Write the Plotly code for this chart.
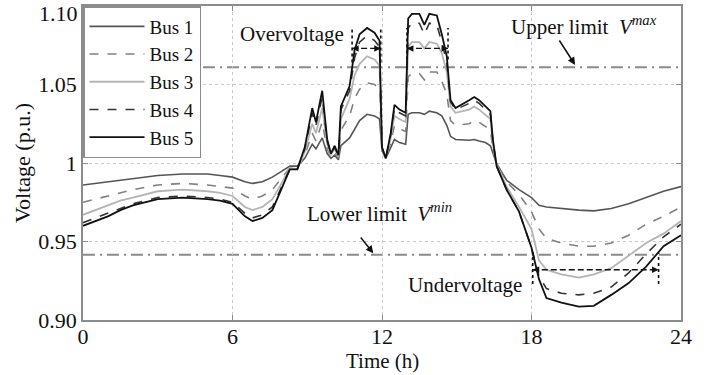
import plotly.graph_objects as go

hours = [0, 0.5, 1, 1.5, 2, 3, 4, 5, 5.5, 6, 6.5, 6.8, 7.2, 7.6, 8.0, 8.3, 8.6, 8.9,
         9.2, 9.35, 9.6, 9.8, 9.95, 10.1, 10.25, 10.35, 10.7, 10.9, 11.1, 11.4, 11.7,
         11.9, 12.0, 12.15, 12.35, 12.5, 12.7, 12.95, 13.05, 13.2, 13.5, 13.7, 13.9,
         14.2, 14.4, 14.6, 14.75, 14.95, 15.5, 15.7, 15.9, 16.15, 16.35, 16.45, 16.6,
         17.0, 17.5, 18.0, 18.3, 18.6, 19.2, 19.9, 20.5, 21.2, 21.9, 22.6, 23.3, 24]

bus1 = [0.986, 0.987, 0.988, 0.989, 0.990, 0.992, 0.993, 0.993, 0.992, 0.991, 0.988, 0.987,
        0.988, 0.991, 0.995, 0.998, 0.998, 1.003, 1.012, 1.009, 1.016, 1.006, 1.003, 1.005,
        1.002, 1.011, 1.016, 1.022, 1.027, 1.031, 1.030, 1.028, 1.008, 1.003, 1.010, 1.015,
        1.013, 1.012, 1.031, 1.032, 1.032, 1.031, 1.033, 1.032, 1.030, 1.024, 1.017, 1.015,
        1.0145, 1.015, 1.014, 1.013, 1.011, 1.006, 0.9995, 0.989, 0.983, 0.978, 0.973, 0.972,
        0.971, 0.970, 0.9695, 0.971, 0.974, 0.978, 0.982, 0.985]

bus2 = [0.975, 0.977, 0.979, 0.981, 0.983, 0.986, 0.987, 0.986, 0.985, 0.984, 0.979, 0.977,
        0.979, 0.983, 0.991, 0.997, 0.997, 1.005, 1.019, 1.014, 1.026, 1.009, 1.004, 1.007,
        1.003, 1.021, 1.030, 1.041, 1.047, 1.051, 1.050, 1.047, 1.008, 1.003, 1.013, 1.024,
        1.022, 1.020, 1.055, 1.057, 1.057, 1.053, 1.058, 1.058, 1.052, 1.044, 1.027, 1.024,
        1.025, 1.027, 1.026, 1.023, 1.021, 1.009, 0.999, 0.988, 0.980, 0.969, 0.958, 0.952,
        0.949, 0.947, 0.947, 0.949, 0.954, 0.961, 0.966, 0.972]

bus3 = [0.967, 0.970, 0.973, 0.976, 0.978, 0.982, 0.983, 0.982, 0.981, 0.979, 0.972, 0.970,
        0.972, 0.977, 0.988, 0.997, 0.996, 1.007, 1.025, 1.019, 1.035, 1.012, 1.005, 1.009,
        1.004, 1.028, 1.041, 1.056, 1.063, 1.068, 1.066, 1.062, 1.009, 1.003, 1.016, 1.030,
        1.028, 1.026, 1.074, 1.077, 1.077, 1.073, 1.077, 1.076, 1.070, 1.058, 1.036, 1.032,
        1.034, 1.036, 1.034, 1.031, 1.028, 1.012, 0.999, 0.985, 0.972, 0.958, 0.938, 0.932,
        0.929, 0.927, 0.929, 0.933, 0.941, 0.949, 0.955, 0.963]

bus4 = [0.962, 0.965, 0.968, 0.971, 0.974, 0.978, 0.979, 0.978, 0.977, 0.975, 0.968, 0.965,
        0.967, 0.972, 0.986, 0.996, 0.996, 1.009, 1.032, 1.024, 1.042, 1.014, 1.006, 1.010,
        1.005, 1.034, 1.046, 1.067, 1.077, 1.081, 1.078, 1.074, 1.010, 1.003, 1.018, 1.035,
        1.032, 1.030, 1.086, 1.089, 1.089, 1.082, 1.089, 1.088, 1.077, 1.064, 1.039, 1.034,
        1.038, 1.040, 1.038, 1.034, 1.031, 1.014, 0.998, 0.983, 0.969, 0.946, 0.928, 0.920,
        0.917, 0.916, 0.917, 0.921, 0.930, 0.942, 0.953, 0.961]

bus5 = [0.960, 0.963, 0.966, 0.970, 0.973, 0.977, 0.978, 0.977, 0.976, 0.974, 0.966, 0.963,
        0.965, 0.970, 0.985, 0.996, 0.996, 1.010, 1.035, 1.026, 1.046, 1.015, 1.006, 1.011,
        1.005, 1.036, 1.049, 1.072, 1.082, 1.086, 1.083, 1.078, 1.010, 1.003, 1.019, 1.037,
        1.034, 1.032, 1.092, 1.095, 1.095, 1.088, 1.095, 1.094, 1.082, 1.068, 1.040, 1.035,
        1.040, 1.042, 1.040, 1.036, 1.033, 1.015, 0.998, 0.983, 0.969, 0.946, 0.926, 0.914,
        0.911, 0.9085, 0.909, 0.916, 0.9235, 0.934, 0.947, 0.954]

series_names = ["Bus 1", "Bus 2", "Bus 3", "Bus 4", "Bus 5"]
series_values = [bus1, bus2, bus3, bus4, bus5]
series_colors = ["#555555", "#808080", "#b4b4b4", "#333333", "#111111"]
series_dash = ["solid", "dash", "solid", "dash", "solid"]
series_width = [1.6, 1.6, 1.8, 1.6, 1.8]

v_max = 1.061
v_min = 0.9415

x_ticks = [0, 6, 12, 18, 24]
y_ticks = [0.90, 0.95, 1.0, 1.05]
y_tick_labels = ["0.90", "0.95", "1", "1.05"]
y_top_label = "1.10"

FONT = "'Liberation Serif', 'Times New Roman', Times, serif"

fig = go.Figure()
for name, vals, col, dash, w in zip(series_names, series_values, series_colors,
                                    series_dash, series_width):
    fig.add_trace(go.Scatter(x=hours, y=vals, name=name, mode="lines",
                             line=dict(color=col, dash=dash, width=w)))

limit_dash = "12px,5px,2px,5px"
for v in (v_max, v_min):
    fig.add_shape(type="line", xref="x", yref="y", x0=0, x1=24, y0=v, y1=v,
                  line=dict(color="#8a8a8a", width=2, dash=limit_dash), layer="below")

# dotted vertical markers for over/under-voltage intervals
markers = [(10.8, 1.064, 1.086), (11.95, 1.064, 1.086),
           (13.0, 1.066, 1.086), (14.65, 1.066, 1.086),
           (18.05, 0.923, 0.943), (23.1, 0.923, 0.943)]
for xm, y0, y1 in markers:
    fig.add_shape(type="line", xref="x", yref="y", x0=xm, x1=xm, y0=y0, y1=y1,
                  line=dict(color="#111111", width=1.6, dash="dot"))

# interval arrows (dashed line + arrowheads)
intervals = [(10.8, 11.95, 1.073), (13.0, 14.65, 1.073), (18.05, 23.1, 0.932)]
for xa, xb, yv in intervals:
    fig.add_shape(type="line", xref="x", yref="y", x0=xa, x1=xb, y0=yv, y1=yv,
                  line=dict(color="#111111", width=1.3, dash="6px,3px"))
    for tip, tail in ((xa, xa + 0.3), (xb, xb - 0.3)):
        fig.add_annotation(x=tip, y=yv, ax=tail, ay=yv, xref="x", yref="y",
                           axref="x", ayref="y", text="", showarrow=True,
                           arrowhead=2, arrowsize=1, arrowwidth=1.3,
                           arrowcolor="#111111")

tf = dict(family=FONT, size=21, color="#111111")
fig.add_annotation(x=8.4, y=1.082, text="Overvoltage", showarrow=False, font=tf,
                   xref="x", yref="y")
fig.add_annotation(x=20.1, y=1.0875, text="Upper limit  <i>V</i><sup><i>max</i></sup>",
                   showarrow=False, font=tf, xref="x", yref="y")
fig.add_annotation(x=19.75, y=1.0625, ax=19.08, ay=1.079, xref="x", yref="y",
                   axref="x", ayref="y", text="", showarrow=True, arrowhead=2,
                   arrowsize=1, arrowwidth=1.5, arrowcolor="#111111")
fig.add_annotation(x=11.9, y=0.9685, text="Lower limit  <i>V</i><sup><i>min</i></sup>",
                   showarrow=False, font=tf, xref="x", yref="y")
fig.add_annotation(x=11.65, y=0.9425, ax=11.1, ay=0.9535, xref="x", yref="y",
                   axref="x", ayref="y", text="", showarrow=True, arrowhead=2,
                   arrowsize=1, arrowwidth=1.5, arrowcolor="#111111")
fig.add_annotation(x=15.35, y=0.9225, text="Undervoltage", showarrow=False, font=tf,
                   xref="x", yref="y")
# top y tick label, kept inside the picture
fig.add_annotation(x=0, y=1, xref="paper", yref="paper", xanchor="right", yanchor="top",
                   xshift=-3, yshift=7, text=y_top_label, showarrow=False,
                   font=dict(family=FONT, size=22, color="#111111"))
# x axis title
fig.add_annotation(x=0.5, y=0, xref="paper", yref="paper", xanchor="center",
                   yanchor="bottom", yshift=-55, text="Time (h)", showarrow=False,
                   font=dict(family=FONT, size=21, color="#111111"))

axis_common = dict(showline=True, linecolor="#8c8c8c", linewidth=1.5, mirror="ticks",
                   ticks="inside", ticklen=5, tickcolor="#8c8c8c",
                   showgrid=True, gridcolor="#c8c8c8", griddash="dot", gridwidth=1,
                   zeroline=False, automargin=False,
                   tickfont=dict(family=FONT, size=22, color="#111111"))

fig.update_layout(
    width=710, height=375,
    margin=dict(l=83, r=29, t=6, b=55),
    paper_bgcolor="white", plot_bgcolor="white",
    font=dict(family=FONT, color="#111111"),
    xaxis=dict(range=[0, 24], tickvals=x_ticks, ticklabelstandoff=-4, **axis_common),
    yaxis=dict(range=[0.9, 1.1], tickvals=y_ticks, ticktext=y_tick_labels,
               title=dict(text="Voltage (p.u.)", font=dict(family=FONT, size=22), standoff=2),
               **axis_common),
    legend=dict(x=0, y=1, xanchor="left", yanchor="top", bgcolor="white",
                bordercolor="#8c8c8c", borderwidth=1.5,
                font=dict(family=FONT, size=19, color="#111111"),
                tracegroupgap=0, itemwidth=55),
    showlegend=True,
)

fig.write_html("out.html")
